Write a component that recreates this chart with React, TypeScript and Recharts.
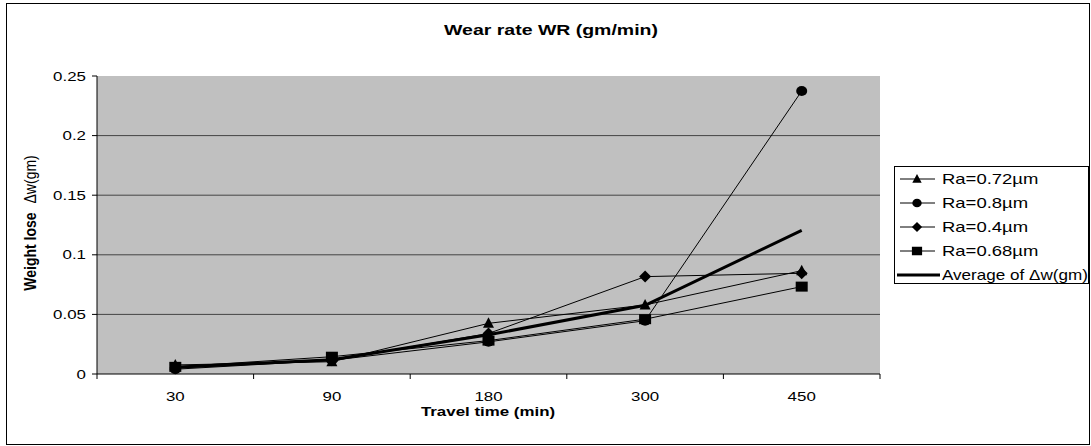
import { LineChart, Line, XAxis, YAxis, CartesianGrid, Legend } from 'recharts';

// travel time categories (min)
const travelTimes = ['30', '90', '180', '300', '450'];

// weight lose Δw(gm) per surface roughness
const ra072 = [0.0076, 0.0103, 0.0425, 0.0579, 0.0867];
const ra08 = [0.004, 0.0115, 0.027, 0.0447, 0.2374];
const ra04 = [0.005, 0.0115, 0.034, 0.0817, 0.0845];
const ra068 = [0.006, 0.0145, 0.028, 0.046, 0.0733];
const average = [0.0057, 0.012, 0.0329, 0.0576, 0.1205];

const seriesNames = ['Ra=0.72µm', 'Ra=0.8µm', 'Ra=0.4µm', 'Ra=0.68µm', 'Average of Δw(gm)'];
const yTicks = [0, 0.05, 0.1, 0.15, 0.2, 0.25];
const gridValues = [0.05, 0.1, 0.15, 0.2];

const W = 1091;
const H = 446;
const PLOT_LEFT = 97;
const PLOT_RIGHT = 880;
const BAND = (PLOT_RIGHT - PLOT_LEFT) / travelTimes.length;
const FONT = '"Liberation Sans", Arial, Helvetica, sans-serif';
const STRETCH = 1.3;

type Shape = 'triangle' | 'circle' | 'diamond' | 'square' | 'none';

const series: { key: string; name: string; shape: Shape; width: number }[] = [
  { key: 'ra072', name: seriesNames[0], shape: 'triangle', width: 1 },
  { key: 'ra08', name: seriesNames[1], shape: 'circle', width: 1 },
  { key: 'ra04', name: seriesNames[2], shape: 'diamond', width: 1 },
  { key: 'ra068', name: seriesNames[3], shape: 'square', width: 1 },
  { key: 'average', name: seriesNames[4], shape: 'none', width: 3 },
];

function Marker({ shape, cx, cy, s = 1 }: { shape: Shape; cx: number; cy: number; s?: number }) {
  if (cx == null || cy == null) return null;
  switch (shape) {
    case 'triangle':
      return (
        <polygon
          points={`${cx},${cy - 6 * s} ${cx + 5.5 * s},${cy + 4.5 * s} ${cx - 5.5 * s},${cy + 4.5 * s}`}
          fill="#000"
        />
      );
    case 'circle':
      return <ellipse cx={cx} cy={cy} rx={5.5 * s} ry={5 * s} fill="#000" />;
    case 'diamond':
      return (
        <polygon
          points={`${cx},${cy - 6 * s} ${cx + 6 * s},${cy} ${cx},${cy + 6 * s} ${cx - 6 * s},${cy}`}
          fill="#000"
        />
      );
    case 'square':
      return <rect x={cx - 6 * s} y={cy - 5 * s} width={12 * s} height={10 * s} fill="#000" />;
    default:
      return null;
  }
}

const makeDot = (shape: Shape) => (props: any) => (
  <g key={`${shape}-${props.index}`}>
    <Marker shape={shape} cx={props.cx} cy={props.cy} />
  </g>
);

function XTick(props: any) {
  const { x, y, payload, index } = props;
  return (
    <g>
      <line x1={x - BAND / 2} y1={y} x2={x - BAND / 2} y2={y + 5} stroke="#000" />
      {index === travelTimes.length - 1 && (
        <line x1={x + BAND / 2} y1={y} x2={x + BAND / 2} y2={y + 5} stroke="#000" />
      )}
      <text
        transform={`translate(${x} ${y + 27}) scale(${STRETCH} 1)`}
        textAnchor="middle"
        fontSize={13}
        fontFamily={FONT}
        fill="#000"
      >
        {payload.value}
      </text>
    </g>
  );
}

function YTick(props: any) {
  const { x, y, payload } = props;
  return (
    <text
      transform={`translate(${x} ${y + 4.5}) scale(${STRETCH} 1)`}
      textAnchor="end"
      fontSize={13}
      fontFamily={FONT}
      fill="#000"
    >
      {String(payload.value)}
    </text>
  );
}

function LegendBox() {
  return (
    <svg width={195} height={118} style={{ display: 'block' }}>
      <rect x={0.5} y={0.5} width={194} height={117} fill="#fff" stroke="#000" />
      {series.map((s, i) => {
        const y = 13 + i * 24;
        const avg = s.shape === 'none';
        return (
          <g key={s.key}>
            <line
              x1={avg ? 3 : 6}
              x2={avg ? 46 : 41}
              y1={y}
              y2={y}
              stroke="#000"
              strokeWidth={s.width}
            />
            <Marker shape={s.shape} cx={23} cy={y} s={0.85} />
            <text
              transform={`translate(48 ${y + 5}) scale(${avg ? 1.22 : 1.32} 1)`}
              fontSize={14}
              fontFamily={FONT}
              fill="#000"
            >
              {s.name}
            </text>
          </g>
        );
      })}
    </svg>
  );
}

export default function App() {
  const chartData = travelTimes.map((t, i) => ({
    time: t,
    ra072: ra072[i],
    ra08: ra08[i],
    ra04: ra04[i],
    ra068: ra068[i],
    average: average[i],
  }));

  return (
    <div style={{ position: 'absolute', left: 0, top: 0, width: W, height: H, background: '#fff', fontFamily: FONT }}>
      <LineChart width={W} height={H} data={chartData} margin={{ top: 76, right: W - PLOT_RIGHT, bottom: 30, left: 0 }}>
        <CartesianGrid
          vertical={false}
          horizontalValues={gridValues}
          fill="#C0C0C0"
          fillOpacity={1}
          stroke="#444"
          strokeWidth={1}
        />
        <XAxis
          dataKey="time"
          type="category"
          height={42}
          padding={{ left: BAND / 2, right: BAND / 2 }}
          axisLine={{ stroke: '#000' }}
          tickLine={false}
          tickSize={0}
          tickMargin={0}
          tick={<XTick />}
          interval={0}
        />
        <YAxis
          width={PLOT_LEFT}
          domain={[0, 0.25]}
          ticks={yTicks}
          type="number"
          axisLine={{ stroke: '#000' }}
          tickLine={{ stroke: '#000' }}
          tickSize={5}
          tickMargin={6}
          tick={<YTick />}
          interval={0}
        />
        <Legend
          layout="vertical"
          align="center"
          verticalAlign="middle"
          content={() => <LegendBox />}
          wrapperStyle={{ left: 894, top: 166, width: 195, height: 118 }}
        />
        {series.map((s) => (
          <Line
            key={s.key}
            dataKey={s.key}
            name={s.name}
            type="linear"
            stroke="#000"
            strokeWidth={s.width}
            dot={s.shape === 'none' ? false : makeDot(s.shape)}
            activeDot={false}
            isAnimationActive={false}
          />
        ))}
      </LineChart>
      <svg
        width={W}
        height={H}
        style={{ position: 'absolute', left: 0, top: 0, pointerEvents: 'none' }}
      >
        <rect x={6.5} y={3.5} width={1083} height={441} fill="none" stroke="#000" />
        <text
          transform={`translate(551 35) scale(${STRETCH} 1)`}
          textAnchor="middle"
          fontSize={15}
          fontWeight="bold"
          fontFamily={FONT}
          fill="#000"
        >
          Wear rate WR (gm/min)
        </text>
        <text
          transform={`translate(488 416) scale(${STRETCH} 1)`}
          textAnchor="middle"
          fontSize={13}
          fontWeight="bold"
          fontFamily={FONT}
          fill="#000"
        >
          Travel time (min)
        </text>
        <text
          transform="translate(36 223) scale(1.15 1) rotate(-90)"
          textAnchor="middle"
          fontSize={14}
          fontFamily={FONT}
          fill="#000"
        >
          <tspan fontWeight="bold">Weight lose</tspan>
          <tspan dx={9}>Δw(gm)</tspan>
        </text>
      </svg>
    </div>
  );
}
